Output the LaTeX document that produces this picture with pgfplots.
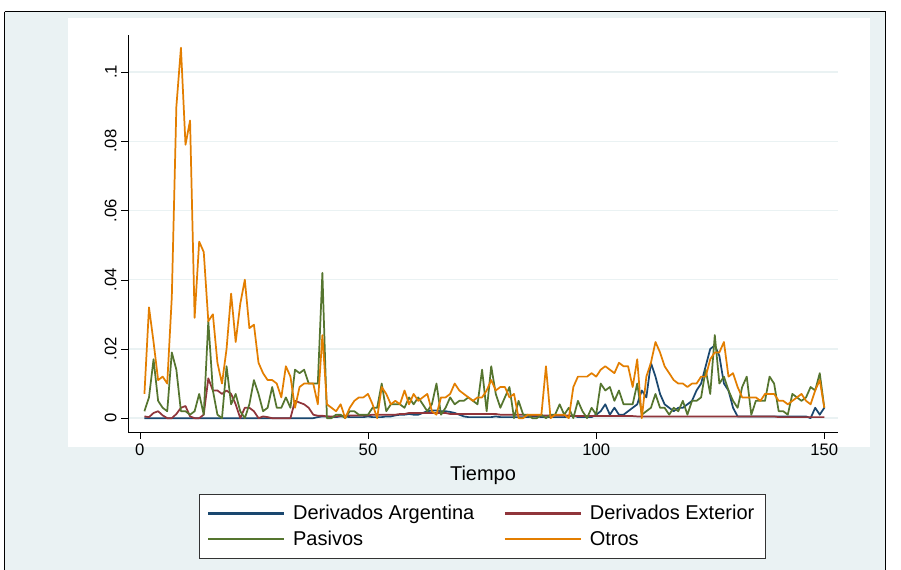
\documentclass[border=0pt]{standalone}
\usepackage{pgfplots}
\pgfplotsset{compat=1.18}
\usepackage{fontspec}
\setmainfont{Liberation Sans}
\definecolor{sbg}{HTML}{EAF2F3}
\definecolor{snavy}{HTML}{1A476F}
\definecolor{smaroon}{HTML}{90353B}
\definecolor{sgreen}{HTML}{55752F}
\definecolor{sorange}{HTML}{E37E00}
\pgfplotstableread{
t otros pas
1 .007 .002
2 .032 .006
3 .022 .017
4 .011 .005
5 .012 .003
6 .010 .002
7 .035 .019
8 .090 .014
9 .107 .002
10 .079 .002
11 .086 .001
12 .029 .002
13 .051 .007
14 .048 .001
15 .028 .028
16 .030 .008
17 .016 .001
18 .010 .000
19 .020 .015
20 .036 .004
21 .022 .007
22 .033 .002
23 .040 .000
24 .026 .004
25 .027 .011
26 .016 .007
27 .013 .002
28 .011 .003
29 .011 .009
30 .010 .003
31 .006 .003
32 .015 .006
33 .012 .003
34 .003 .014
35 .009 .013
36 .010 .014
37 .010 .010
38 .010 .010
39 .004 .010
40 .024 .042
41 .004 .000
42 .003 .000
43 .002 .001
44 .004 .001
45 .000 .000
46 .003 .002
47 .005 .002
48 .006 .001
49 .006 .001
50 .007 .001
51 .004 .003
52 .000 .003
53 .009 .010
54 .007 .002
55 .004 .004
56 .005 .004
57 .004 .004
58 .008 .003
59 .004 .006
60 .007 .004
61 .005 .006
62 .006 .004
63 .007 .002
64 .002 .004
65 .001 .010
66 .006 .001
67 .006 .003
68 .007 .006
69 .010 .004
70 .008 .005
71 .007 .005
72 .006 .006
73 .005 .005
74 .006 .004
75 .006 .014
76 .008 .002
77 .011 .015
78 .008 .007
79 .009 .003
80 .009 .006
81 .006 .009
82 .007 .000
83 .000 .005
84 .000 .001
85 .001 .001
86 .001 .000
87 .001 .000
88 .001 .001
89 .015 .000
90 .000 .001
91 .001 .001
92 .001 .004
93 .001 .001
94 .000 .003
95 .009 .000
96 .012 .005
97 .012 .002
98 .012 .000
99 .013 .003
100 .012 .001
101 .014 .010
102 .015 .008
103 .014 .009
104 .013 .005
105 .016 .008
106 .015 .004
107 .015 .004
108 .009 .004
109 .017 .010
110 .000 .001
111 .012 .002
112 .016 .003
113 .022 .007
114 .019 .003
115 .015 .003
116 .013 .001
117 .011 .003
118 .010 .002
119 .010 .005
120 .009 .001
121 .010 .005
122 .010 .005
123 .012 .006
124 .012 .014
125 .017 .007
126 .019 .024
127 .019 .010
128 .022 .012
129 .012 .008
130 .013 .005
131 .009 .003
132 .006 .009
133 .006 .012
134 .006 .001
135 .006 .005
136 .005 .005
137 .007 .005
138 .007 .012
139 .007 .010
140 .005 .002
141 .005 .002
142 .004 .001
143 .005 .007
144 .006 .006
145 .007 .005
146 .005 .006
147 .004 .009
148 .008 .008
149 .011 .013
150 .003 .003
}\dataA
\pgfplotstableread{
t arg ext
1 .0000 .0005
2 .0000 .0003
3 .0000 .0015
4 .0000 .0020
5 .0000 .0008
6 .0000 .0000
7 .0000 .0000
8 .0000 .0012
9 .0000 .0030
10 .0000 .0035
11 .0000 .0005
12 .0000 .0000
13 .0000 .0000
14 .0000 .0010
15 .0000 .0115
16 .0000 .0080
17 .0000 .0080
18 .0000 .0070
19 .0000 .0080
20 .0000 .0070
21 .0000 .0040
22 .0000 .0000
23 .0000 .0030
24 .0000 .0030
25 .0000 .0020
26 .0000 .0000
27 .0000 .0005
28 .0000 .0003
29 .0000 .0000
30 .0000 .0000
31 .0000 .0000
32 .0000 .0000
33 .0000 .0000
34 .0000 .0050
35 .0000 .0045
36 .0000 .0040
37 .0000 .0030
38 .0000 .0010
39 .0003 .0007
40 .0005 .0007
41 .0005 .0005
42 .0003 .0005
43 .0003 .0005
44 .0005 .0007
45 .0005 .0007
46 .0003 .0008
47 .0003 .0008
48 .0003 .0008
49 .0003 .0008
50 .0005 .0008
51 .0003 .0010
52 .0003 .0010
53 .0003 .0010
54 .0005 .0010
55 .0005 .0010
56 .0008 .0010
57 .0010 .0012
58 .0010 .0012
59 .0012 .0015
60 .0010 .0015
61 .0010 .0015
62 .0015 .0015
63 .0020 .0015
64 .0022 .0015
65 .0022 .0015
66 .0020 .0015
67 .0020 .0015
68 .0018 .0012
69 .0015 .0012
70 .0010 .0012
71 .0005 .0012
72 .0003 .0012
73 .0003 .0012
74 .0003 .0012
75 .0003 .0012
76 .0003 .0012
77 .0003 .0012
78 .0005 .0012
79 .0003 .0010
80 .0003 .0010
81 .0003 .0010
82 .0003 .0010
83 .0003 .0010
84 .0003 .0010
85 .0003 .0008
86 .0005 .0008
87 .0005 .0008
88 .0003 .0008
89 .0003 .0008
90 .0003 .0008
91 .0003 .0008
92 .0003 .0008
93 .0003 .0008
94 .0005 .0008
95 .0008 .0006
96 .0003 .0006
97 .0003 .0006
98 .0003 .0006
99 .0003 .0006
100 .0010 .0006
101 .0020 .0006
102 .0040 .0006
103 .0010 .0006
104 .0030 .0006
105 .0010 .0006
106 .0010 .0006
107 .0020 .0006
108 .0030 .0006
109 .0040 .0005
110 .0080 .0005
111 .0060 .0005
112 .0160 .0005
113 .0120 .0005
114 .0070 .0005
115 .0040 .0005
116 .0030 .0005
117 .0020 .0005
118 .0030 .0005
119 .0030 .0005
120 .0040 .0005
121 .0050 .0005
122 .0080 .0005
123 .0100 .0005
124 .0150 .0005
125 .0200 .0005
126 .0210 .0005
127 .0180 .0005
128 .0100 .0005
129 .0080 .0005
130 .0030 .0005
131 .0005 .0005
132 .0005 .0005
133 .0005 .0005
134 .0005 .0005
135 .0005 .0005
136 .0005 .0005
137 .0005 .0005
138 .0005 .0005
139 .0005 .0005
140 .0005 .0003
141 .0005 .0003
142 .0005 .0003
143 .0005 .0003
144 .0005 .0003
145 .0005 .0003
146 .0005 .0003
147 .0000 .0003
148 .0030 .0003
149 .0010 .0003
150 .0030 .0003
}\dataB
\begin{document}
\begin{tikzpicture}[x=0.75pt,y=-0.75pt]
\path[use as bounding box] (0,0) rectangle (901,570);
\fill[white] (0,0) rectangle (901,570);
\fill[sbg,draw=black,line width=0.8pt] (5,12) -- (885,12) -- (885,572) (5,572) -- (5,12) -- cycle;
\fill[sbg] (5.4,12.4) rectangle (884.6,570);
\fill[white] (68,18) rectangle (870,447);
\begin{axis}[
  at={(96pt,-324pt)}, anchor=south west,
  scale only axis, width=532.5pt, height=297.75pt,
  xmin=-2.6, xmax=153, ymin=-0.004, ymax=0.1107,
  axis x line*=bottom, axis y line*=left,
  axis line style={black, line width=0.6pt},
  xtick={0,50,100,150}, ytick={0,0.02,0.04,0.06,0.08,0.1},
  yticklabels={0,.02,.04,.06,.08,.1},
  yticklabel style={rotate=90, anchor=south},
  tick style={black}, tick align=outside, major tick length=5pt,
  ymajorgrids, grid style={sbg, line width=1pt},
  /pgf/number format/assume math mode=true,
  ticklabel style={font=\fontsize{12.5}{14}\selectfont},
  xlabel={Tiempo}, xlabel style={font=\fontsize{15}{17}\selectfont, yshift=-1pt},
  legend columns=2, legend cell align=left,
  legend style={at={(0.4986,-0.157)}, anchor=north, draw=black!80, fill=white,
    font=\fontsize{15}{17}\selectfont, inner xsep=6pt, inner ysep=6pt, row sep=3pt,
    /tikz/every even column/.append style={column sep=20pt}},
  legend image code/.code={\draw[#1] (0pt,0pt) -- (57pt,0pt); \path[#1] (61pt,0pt);},
  every axis plot/.append style={line width=1.3pt, line join=round},
]
\addplot[snavy, forget plot] table[x=t,y=arg] {\dataB};
\addplot[smaroon, forget plot] table[x=t,y=ext] {\dataB};
\addplot[sgreen, forget plot] table[x=t,y=pas] {\dataA};
\addplot[sorange, forget plot] table[x=t,y=otros] {\dataA};
\addlegendimage{draw=snavy, line width=1.6pt}
\addlegendentry{Derivados Argentina}
\addlegendimage{draw=smaroon, line width=1.6pt}
\addlegendentry{Derivados Exterior}
\addlegendimage{draw=sgreen, line width=1.6pt}
\addlegendentry{Pasivos}
\addlegendimage{draw=sorange, line width=1.6pt}
\addlegendentry{Otros}
\end{axis}
\end{tikzpicture}
\end{document}
